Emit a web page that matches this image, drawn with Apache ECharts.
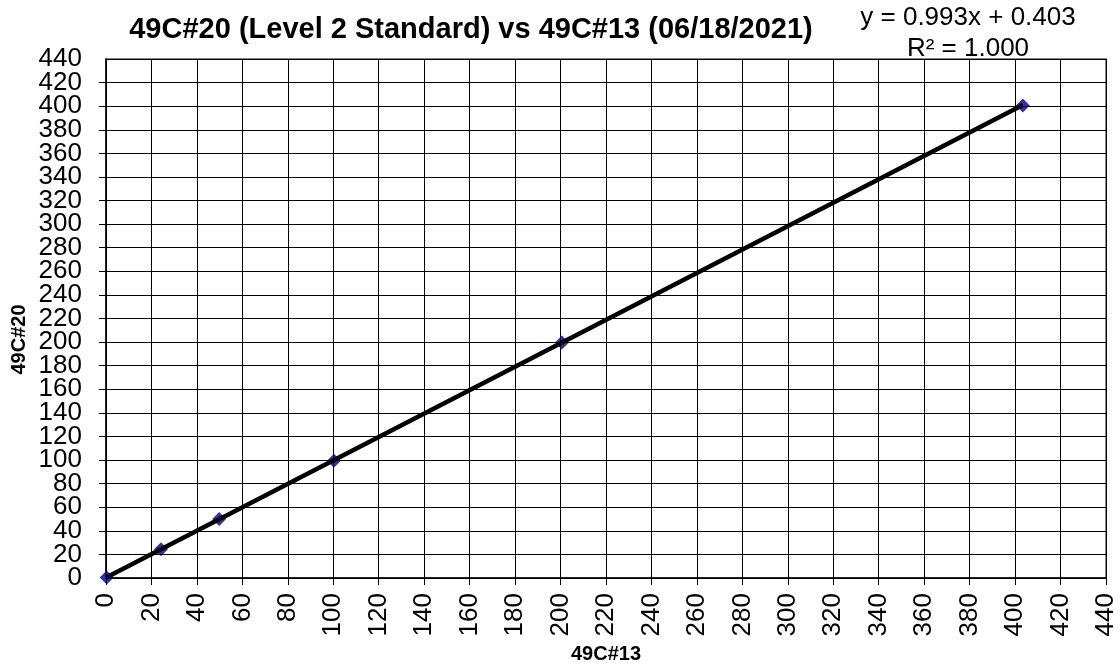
<!DOCTYPE html>
<html>
<head>
<meta charset="utf-8">
<script src="https://cdn.jsdelivr.net/npm/echarts@6/dist/echarts.min.js"></script>
<style>
html,body{margin:0;padding:0;background:#fff;}
#chart{width:1120px;height:669px;}
</style>
</head>
<body>
<div id="chart"></div>
<script>
// Measured pairs: 49C#13 reading (x) against 49C#20 standard (y)
var xValues = [0.3, 24.2, 49.8, 100.3, 200.6, 403.4];
var yValues = [0.4, 24.4, 50.0, 99.5, 199.6, 400.6];
// Linear fit shown in the corner
var slope = 0.993;
var intercept = 0.403;
var rSquared = 1.000;
var titleText = '49C#20 (Level 2 Standard) vs 49C#13 (06/18/2021)';
var xName = '49C#13';
var yName = '49C#20';
var axisMin = 0;
var axisMax = 440;
var axisStep = 20;

var points = xValues.map(function (x, i) { return [x, yValues[i]]; });
var xMin = Math.min.apply(null, xValues);
var xMax = Math.max.apply(null, xValues);
var fitLine = [[xMin, slope * xMin + intercept], [xMax, slope * xMax + intercept]];

var font = 'Liberation Sans, Arial, sans-serif';
var labelStyle = { fontFamily: font, fontSize: 26, color: '#000' };

var chart = echarts.init(document.getElementById('chart'));
chart.setOption({
  backgroundColor: '#fff',
  animation: false,
  title: [
    { text: titleText, left: 471, top: 15, padding: 0, textAlign: 'center',
      textStyle: { fontFamily: font, fontSize: 29, fontWeight: 'bold', color: '#000' } },
    { text: 'y = ' + slope.toFixed(3) + 'x + ' + intercept.toFixed(3), left: 968, top: 5, padding: 0, textAlign: 'center',
      textStyle: { fontFamily: font, fontSize: 26, fontWeight: 'normal', color: '#000' } },
    { text: 'R² = ' + rSquared.toFixed(3), left: 968, top: 36, padding: 0, textAlign: 'center',
      textStyle: { fontFamily: font, fontSize: 26, fontWeight: 'normal', color: '#000' } }
  ],
  grid: { left: 106, right: 14, top: 59, bottom: 91, outerBoundsMode: 'none', containLabel: false,
    show: true, borderColor: '#888', borderWidth: 2, backgroundColor: 'transparent' },
  xAxis: {
    type: 'value', min: axisMin, max: axisMax, interval: axisStep,
    name: xName, nameLocation: 'middle', nameGap: 66, nameMoveOverlap: false,
    nameTextStyle: { fontFamily: font, fontSize: 20, fontWeight: 'bold', color: '#000' },
    axisLine: { show: true, onZero: false, lineStyle: { color: '#000', width: 1.5 } },
    axisTick: { show: true, inside: false, length: 7, lineStyle: { color: '#000' } },
    axisLabel: Object.assign({ rotate: 90, margin: 15, showMaxLabel: true, showMinLabel: true, hideOverlap: false }, labelStyle),
    splitLine: { show: true, lineStyle: { color: '#000', width: 1 } }
  },
  yAxis: [
    {
      // main axis: line, ticks, grid and the inner tick labels
      type: 'value', min: axisMin, max: axisMax, interval: axisStep, position: 'left',
      name: yName, nameLocation: 'middle', nameGap: 77, nameMoveOverlap: false,
      nameTextStyle: { fontFamily: font, fontSize: 20, fontWeight: 'bold', color: '#000', padding: [0, 42, 0, 0] },
      axisLine: { show: true, onZero: false, lineStyle: { color: '#000', width: 1.5 } },
      axisTick: { show: true, inside: false, length: 7, lineStyle: { color: '#000' } },
      axisLabel: Object.assign({ margin: 24, showMaxLabel: false, showMinLabel: false, hideOverlap: false }, labelStyle),
      splitLine: { show: true, lineStyle: { color: '#000', width: 1 } }
    },
    {
      // companion axis on the same side carrying only the end labels
      type: 'value', min: axisMin, max: axisMax, interval: axisStep, position: 'left', offset: 0,
      axisLine: { show: false }, axisTick: { show: false }, splitLine: { show: false },
      axisLabel: Object.assign({ margin: 24, showMaxLabel: true, showMinLabel: true, hideOverlap: false,
        formatter: function (v) { return (v === axisMin || v === axisMax) ? String(v) : ''; } }, labelStyle)
    }
  ],
  series: [
    {
      type: 'scatter', data: points, symbol: 'diamond', symbolSize: 14,
      itemStyle: { color: '#000080' }, z: 2
    },
    {
      type: 'line', data: fitLine, showSymbol: false, symbol: 'none',
      lineStyle: { color: '#000', width: 4.5 }, z: 3, silent: true
    }
  ]
});
</script>
</body>
</html>
